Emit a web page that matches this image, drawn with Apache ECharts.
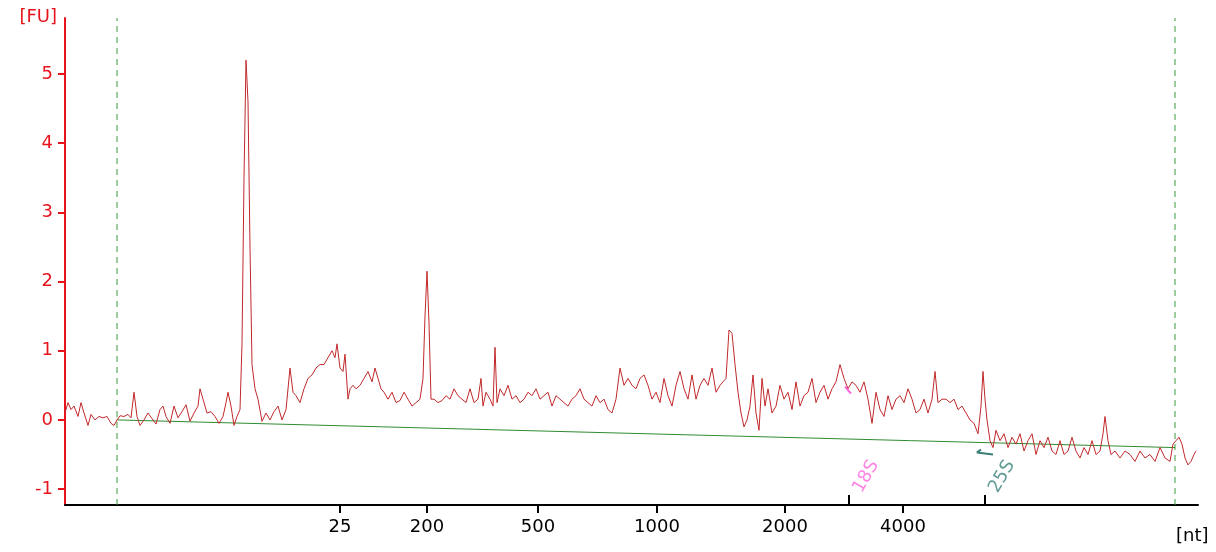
<!DOCTYPE html>
<html><head><meta charset="utf-8">
<script src="https://cdn.jsdelivr.net/npm/echarts@6/dist/echarts.min.js"></script>
<style>html,body{margin:0;background:#fff}#c{width:1216px;height:552px}</style>
</head><body><div id="c"></div>
<script>
// position along the run (pixel-like units) and fluorescence [FU], 10 per row
var pos = [
  65,68,71,74,78,81,84,88,91,95,
  99,103,107,111,114,117,120,124,128,131,
  134,137,140,144,148,152,156,160,163,166,
  170,174,178,182,186,190,194,198,200,203,
  207,211,215,219,223,226,228,231,234,237,
  240,242,244,246,248,250,252,255,258,262,
  266,270,274,278,282,286,290,293,296,300,
  304,308,312,316,320,324,328,332,335,337,
  340,343,345,348,350,353,356,360,364,368,
  372,375,378,381,384,388,392,396,400,404,
  408,412,416,420,423,425,427,429,431,434,
  438,442,446,450,454,458,462,466,470,474,
  478,481,483,486,490,493,495,497,500,504,
  508,512,516,520,524,528,532,536,540,544,
  548,552,556,560,564,568,572,576,580,584,
  588,592,596,600,604,608,612,616,620,624,
  628,632,636,640,644,648,652,656,660,664,
  668,672,676,680,684,688,692,696,700,704,
  708,712,716,720,723,726,729,732,735,738,
  741,744,747,750,753,756,759,762,765,768,
  772,776,780,784,788,792,796,800,804,808,
  812,816,820,824,828,832,836,840,844,848,
  852,856,860,864,868,872,876,880,884,888,
  892,896,900,904,908,912,916,920,924,928,
  932,935,938,942,946,950,954,958,962,966,
  970,974,978,981,983,985,987,990,993,996,
  1000,1004,1008,1012,1016,1020,1024,1028,1032,1036,
  1040,1044,1048,1052,1056,1060,1064,1068,1072,1076,
  1080,1084,1088,1092,1096,1100,1103,1105,1108,1111,
  1115,1120,1125,1130,1135,1140,1145,1150,1155,1160,
  1165,1170,1173,1176,1179,1182,1185,1188,1191,1194,
  1196];
var fu = [
  0.1,0.25,0.15,0.2,0.05,0.25,0.1,-0.08,0.08,0.0,
  0.05,0.03,0.05,-0.05,-0.08,0.0,0.06,0.05,0.08,0.03,
  0.4,0.05,-0.08,0.0,0.1,0.02,-0.06,0.15,0.2,0.05,
  -0.05,0.2,0.03,0.12,0.22,-0.02,0.1,0.2,0.45,0.3,
  0.1,0.12,0.05,-0.05,0.05,0.25,0.4,0.2,-0.08,0.05,
  0.15,1.1,3.5,5.2,4.6,2.5,0.8,0.45,0.3,-0.02,
  0.1,0.0,0.12,0.2,0.0,0.15,0.75,0.4,0.35,0.25,
  0.45,0.6,0.65,0.75,0.8,0.8,0.9,1.0,0.9,1.1,
  0.75,0.7,0.95,0.3,0.45,0.5,0.45,0.5,0.6,0.7,
  0.55,0.75,0.6,0.45,0.4,0.3,0.4,0.25,0.28,0.4,
  0.3,0.2,0.25,0.3,0.6,1.5,2.15,1.4,0.3,0.3,
  0.25,0.28,0.35,0.3,0.45,0.35,0.3,0.25,0.45,0.25,
  0.3,0.6,0.2,0.4,0.3,0.2,1.05,0.25,0.45,0.35,
  0.5,0.3,0.35,0.25,0.3,0.4,0.35,0.45,0.3,0.35,
  0.4,0.2,0.35,0.3,0.25,0.2,0.3,0.35,0.45,0.3,
  0.25,0.2,0.35,0.25,0.3,0.15,0.1,0.3,0.75,0.5,
  0.6,0.5,0.45,0.6,0.65,0.5,0.3,0.4,0.25,0.6,
  0.35,0.2,0.5,0.7,0.45,0.3,0.65,0.3,0.5,0.6,
  0.5,0.75,0.4,0.5,0.55,0.6,1.3,1.25,0.8,0.4,
  0.1,-0.1,0.0,0.2,0.65,0.1,-0.15,0.6,0.2,0.45,
  0.1,0.2,0.5,0.3,0.4,0.15,0.55,0.2,0.35,0.4,
  0.6,0.25,0.4,0.5,0.3,0.45,0.55,0.8,0.6,0.45,
  0.55,0.5,0.4,0.55,0.3,-0.05,0.4,0.15,0.05,0.35,
  0.15,0.3,0.35,0.25,0.45,0.3,0.1,0.15,0.3,0.1,
  0.3,0.7,0.25,0.3,0.3,0.25,0.3,0.15,0.2,0.1,
  0.0,-0.05,-0.2,0.2,0.7,0.3,0.0,-0.3,-0.4,-0.15,
  -0.3,-0.2,-0.4,-0.25,-0.35,-0.2,-0.45,-0.3,-0.2,-0.5,
  -0.3,-0.4,-0.25,-0.45,-0.5,-0.3,-0.5,-0.45,-0.25,-0.45,
  -0.55,-0.4,-0.5,-0.3,-0.5,-0.45,-0.2,0.05,-0.3,-0.5,
  -0.45,-0.55,-0.45,-0.5,-0.6,-0.45,-0.55,-0.5,-0.6,-0.4,
  -0.55,-0.6,-0.35,-0.3,-0.25,-0.35,-0.55,-0.65,-0.6,-0.5,
  -0.45];
var sizePos = [340,427,538,657,785,903];
var sizeLabels = ['25','200','500','1000','2000','4000'];
var yTicks = [-1,0,1,2,3,4,5];
var markerNames = ['18S','25S'];
var markerPos = [849,985];
var markerColors = ['#ff66dd','#3a7f78'];
var gatePos = [117,1175];
var baseline = [[117,0.0],[1175,-0.4]];
var yMin = -1.23, yMax = 5.81;

var traceData = pos.map(function (p, i) { return [p, fu[i]]; });
var gateSeries = gatePos.map(function (g) {
  return {type:'line',data:[[g,yMin],[g,yMax]],symbol:'none',z:1,
    lineStyle:{color:'#3a9a3a',type:[6,5],width:1}};
});
var chart = echarts.init(document.getElementById('c'));
chart.setOption({
  animation:false,
  grid:{left:65,right:18,top:18,bottom:47},
  xAxis:{type:'value',min:65,max:1198,
    axisLine:{onZero:false,lineStyle:{color:'#000',width:2}},
    axisTick:{show:true,customValues:sizePos,length:8,lineStyle:{color:'#000',width:2}},
    axisLabel:{customValues:sizePos,color:'#000',fontFamily:'DejaVu Sans',fontSize:18,margin:13,
      formatter:function(v){var i=sizePos.indexOf(v);return i<0?'':sizeLabels[i];}},
    splitLine:{show:false},
    name:'[nt]',nameLocation:'end',nameGap:-22,
    nameTextStyle:{color:'#000',fontFamily:'DejaVu Sans',fontSize:18,verticalAlign:'top',padding:[22,0,0,0]}},
  yAxis:{type:'value',min:yMin,max:yMax,
    axisLine:{show:true,onZero:false,lineStyle:{color:'#e8141c',width:2}},
    axisTick:{show:true,customValues:yTicks,length:7,lineStyle:{color:'#e8141c',width:2}},
    axisLabel:{customValues:yTicks,color:'#e8141c',fontFamily:'DejaVu Sans',fontSize:18,margin:12},
    splitLine:{show:false},
    name:'[FU]',nameLocation:'end',nameGap:-8,
    nameTextStyle:{color:'#e8141c',fontFamily:'DejaVu Sans',fontSize:18,align:'right',padding:[0,8,0,0]}},
  series:gateSeries.concat([
    {type:'line',data:traceData,symbol:'none',lineStyle:{color:'#c0282a',width:1},z:3},
    {type:'line',data:baseline,symbol:'none',lineStyle:{color:'#2f8a2f',width:1},z:2},
    {type:'line',data:[[845,0.48],[851,0.38]],symbol:'none',lineStyle:{color:'#ff66dd',width:2},z:4},
    {type:'line',data:[[981,-0.43],[977,-0.47],[993,-0.5]],symbol:'none',lineStyle:{color:'#3a7f78',width:2},z:4},
    {type:'custom',renderItem:function(params,api){
        var p=api.coord([api.value(0),yMin]);
        return {type:'line',shape:{x1:p[0],y1:p[1],x2:p[0],y2:p[1]-10},style:{stroke:'#000',lineWidth:2}};
      },data:markerPos.map(function(m){return [m];}),z:5},
    {type:'scatter',symbolSize:0,z:6,
     data:markerPos.map(function(m,i){return {value:[m+17,-0.82],
       label:{show:true,formatter:markerNames[i],rotate:60,color:markerColors[i],
         fontFamily:'DejaVu Sans',fontSize:18,position:'inside'}};})}
  ])
});
</script></body></html>
